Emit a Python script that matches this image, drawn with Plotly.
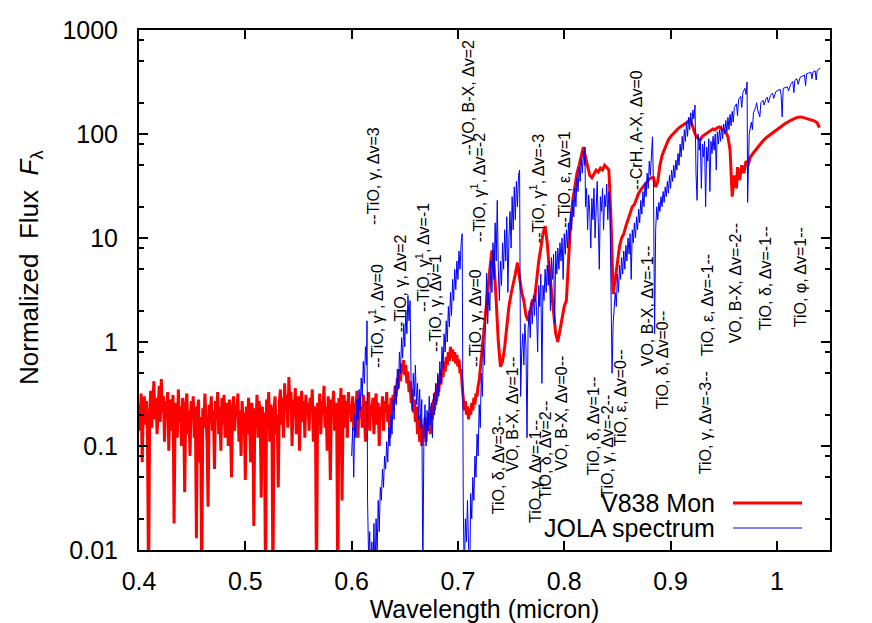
import plotly.graph_objects as go

# ---------------- data ----------------
red_wl = [
    0.400, 0.401, 0.402, 0.403, 0.404, 0.405, 0.406, 0.407, 0.408, 0.409,
    0.410, 0.411, 0.412, 0.413, 0.414, 0.415, 0.416, 0.417, 0.418, 0.419,
    0.420, 0.421, 0.422, 0.423, 0.424, 0.425, 0.426, 0.427, 0.428, 0.429,
    0.430, 0.431, 0.432, 0.433, 0.434, 0.435, 0.436, 0.437, 0.438, 0.439,
    0.440, 0.441, 0.442, 0.443, 0.444, 0.445, 0.446, 0.447, 0.448, 0.449,
    0.450, 0.451, 0.452, 0.453, 0.454, 0.455, 0.456, 0.457, 0.458, 0.459,
    0.460, 0.461, 0.462, 0.463, 0.464, 0.465, 0.466, 0.467, 0.468, 0.469,
    0.470, 0.471, 0.472, 0.473, 0.474, 0.475, 0.476, 0.477, 0.478, 0.479,
    0.480, 0.481, 0.482, 0.483, 0.484, 0.485, 0.486, 0.487, 0.488, 0.489,
    0.490, 0.491, 0.492, 0.493, 0.494, 0.495, 0.496, 0.497, 0.498, 0.499,
    0.500, 0.501, 0.502, 0.503, 0.504, 0.505, 0.506, 0.507, 0.508, 0.509,
    0.510, 0.511, 0.512, 0.513, 0.514, 0.515, 0.516, 0.517, 0.518, 0.519,
    0.520, 0.521, 0.522, 0.523, 0.524, 0.525, 0.526, 0.527, 0.528, 0.529,
    0.530, 0.531, 0.532, 0.533, 0.534, 0.535, 0.536, 0.537, 0.538, 0.539,
    0.540, 0.541, 0.542, 0.543, 0.544, 0.545, 0.546, 0.547, 0.548, 0.549,
    0.550, 0.551, 0.552, 0.553, 0.554, 0.555, 0.556, 0.557, 0.558, 0.559,
    0.560, 0.561, 0.562, 0.563, 0.564, 0.565, 0.566, 0.567, 0.568, 0.569,
    0.570, 0.571, 0.572, 0.573, 0.574, 0.575, 0.576, 0.577, 0.578, 0.579,
    0.580, 0.581, 0.582, 0.583, 0.584, 0.585, 0.586, 0.587, 0.588, 0.589,
    0.590, 0.591, 0.592, 0.593, 0.594, 0.595, 0.596, 0.597, 0.598, 0.599,
    0.600, 0.601, 0.602, 0.603, 0.604, 0.605, 0.606, 0.607, 0.608, 0.609,
    0.610, 0.611, 0.612, 0.613, 0.614, 0.615, 0.616, 0.617, 0.618, 0.619,
    0.620, 0.621, 0.622, 0.623, 0.624, 0.625, 0.626, 0.627, 0.628, 0.629,
    0.630, 0.631, 0.632, 0.633, 0.634, 0.635, 0.636, 0.637, 0.638, 0.639,
    0.640, 0.641, 0.642, 0.643, 0.644, 0.645, 0.646, 0.647, 0.648, 0.649,
    0.650, 0.651, 0.652, 0.653, 0.654, 0.655, 0.656, 0.657, 0.658, 0.659,
    0.660, 0.661, 0.662, 0.663, 0.664, 0.665, 0.666, 0.667, 0.668, 0.669,
    0.670, 0.671, 0.672, 0.673, 0.674, 0.675, 0.676, 0.677, 0.678, 0.679,
    0.680, 0.681, 0.682, 0.683, 0.684, 0.685, 0.686, 0.687, 0.688, 0.689,
    0.690, 0.691, 0.692, 0.693, 0.694, 0.695, 0.696, 0.697, 0.698, 0.699,
    0.700, 0.701, 0.702, 0.703, 0.704, 0.705, 0.706, 0.707, 0.708, 0.709,
    0.710, 0.711, 0.712, 0.713, 0.714, 0.715, 0.716, 0.717, 0.718, 0.719,
    0.720, 0.722, 0.724, 0.726, 0.728, 0.730, 0.732, 0.734, 0.736, 0.738,
    0.740, 0.742, 0.744, 0.746, 0.748, 0.750, 0.752, 0.754, 0.756, 0.758,
    0.760, 0.762, 0.764, 0.766, 0.768, 0.770, 0.772, 0.774, 0.776, 0.778,
    0.780, 0.782, 0.784, 0.786, 0.788, 0.790, 0.792, 0.794, 0.796, 0.798,
    0.800, 0.802, 0.804, 0.806, 0.808, 0.810, 0.812, 0.814, 0.816, 0.818,
    0.820, 0.822, 0.824, 0.826, 0.828, 0.830, 0.832, 0.834, 0.836, 0.838,
    0.840, 0.842, 0.844, 0.846, 0.848, 0.850, 0.852, 0.854, 0.856, 0.858,
    0.860, 0.862, 0.864, 0.866, 0.868, 0.870, 0.872, 0.874, 0.876, 0.878,
    0.880, 0.882, 0.884, 0.886, 0.888, 0.890, 0.892, 0.894, 0.896, 0.898,
    0.900, 0.903, 0.906, 0.909, 0.912, 0.915, 0.918, 0.920, 0.922, 0.924,
    0.926, 0.928, 0.930, 0.932, 0.934, 0.936, 0.938, 0.940, 0.942, 0.944,
    0.946, 0.948, 0.950, 0.952, 0.954, 0.956, 0.958, 0.960, 0.962, 0.963,
    0.965, 0.967, 0.969, 0.971, 0.973, 0.975, 0.978, 0.981, 0.984, 0.987,
    0.990, 0.993, 0.996, 0.999, 1.002, 1.005, 1.008, 1.011, 1.014, 1.017,
    1.020, 1.023, 1.026, 1.029, 1.032, 1.035, 1.038, 1.040,
]
red_flux = [
    0.25, 0.14, 0.32, 0.07, 0.22, 0.30, 0.16, 0.27, 0.12, 0.004,
    0.20, 0.34, 0.15, 0.26, 0.42, 0.18, 0.29, 0.13, 0.24, 0.38,
    0.17, 0.44, 0.21, 0.30, 0.11, 0.27, 0.19, 0.33, 0.09, 0.23,
    0.28, 0.14, 0.31, 0.018, 0.20, 0.26, 0.12, 0.35, 0.17, 0.24,
    0.10, 0.29, 0.19, 0.036, 0.25, 0.32, 0.13, 0.22, 0.08, 0.27,
    0.18, 0.30, 0.12, 0.24, 0.013, 0.21, 0.28, 0.07, 0.19, 0.004,
    0.23, 0.15, 0.32, 0.20, 0.11, 0.026, 0.25, 0.17, 0.30, 0.14,
    0.22, 0.06, 0.27, 0.18, 0.33, 0.13, 0.24, 0.09, 0.29, 0.16,
    0.31, 0.12, 0.21, 0.26, 0.10, 0.28, 0.17, 0.05, 0.23, 0.30,
    0.14, 0.25, 0.19, 0.32, 0.11, 0.22, 0.08, 0.27, 0.16, 0.21,
    0.047, 0.24, 0.13, 0.29, 0.18, 0.07, 0.26, 0.20, 0.017, 0.23,
    0.15, 0.31, 0.12, 0.27, 0.19, 0.032, 0.24, 0.14, 0.21, 0.004,
    0.28, 0.17, 0.33, 0.11, 0.25, 0.19, 0.004, 0.22, 0.30, 0.13,
    0.20, 0.04, 0.26, 0.35, 0.16, 0.29, 0.12, 0.40, 0.21, 0.31,
    0.15, 0.46, 0.24, 0.33, 0.10, 0.28, 0.19, 0.36, 0.13, 0.25,
    0.30, 0.09, 0.23, 0.34, 0.17, 0.27, 0.12, 0.31, 0.20, 0.26,
    0.14, 0.29, 0.21, 0.35, 0.11, 0.24, 0.18, 0.004, 0.26, 0.16,
    0.32, 0.13, 0.27, 0.20, 0.38, 0.15, 0.24, 0.09, 0.30, 0.19,
    0.047, 0.28, 0.22, 0.34, 0.14, 0.26, 0.18, 0.004, 0.29, 0.21,
    0.36, 0.03, 0.24, 0.31, 0.15, 0.27, 0.12, 0.33, 0.20, 0.25,
    0.17, 0.30, 0.14, 0.26, 0.21, 0.34, 0.12, 0.28, 0.19, 0.24,
    0.15, 0.31, 0.22, 0.11, 0.27, 0.18, 0.33, 0.14, 0.25, 0.20,
    0.29, 0.13, 0.23, 0.32, 0.16, 0.26, 0.10, 0.24, 0.19, 0.30,
    0.14, 0.27, 0.21, 0.33, 0.17, 0.25, 0.12, 0.29, 0.22, 0.31,
    0.26, 0.38, 0.30, 0.45, 0.36, 0.55, 0.42, 0.62, 0.50, 0.67,
    0.48, 0.60, 0.40, 0.52, 0.33, 0.42, 0.26, 0.35, 0.21, 0.28,
    0.17, 0.24, 0.13, 0.20, 0.11, 0.18, 0.10, 0.16, 0.12, 0.19,
    0.11, 0.17, 0.14, 0.21, 0.13, 0.24, 0.18, 0.28, 0.22, 0.33,
    0.27, 0.40, 0.33, 0.48, 0.39, 0.55, 0.46, 0.65, 0.52, 0.72,
    0.60, 0.80, 0.66, 0.90, 0.70, 0.85, 0.65, 0.80, 0.62, 0.75,
    0.58, 0.68, 0.50, 0.55, 0.38, 0.30, 0.22, 0.27, 0.20, 0.24,
    0.18, 0.23, 0.20, 0.26, 0.22, 0.29, 0.25, 0.32, 0.30, 0.38,
    0.42, 0.70, 1.2, 2.0, 3.0, 5.0, 7.6, 5.5, 2.5, 1.0,
    0.58, 0.65, 0.9, 1.5, 2.2, 2.9, 3.5, 4.5, 5.8, 4.2,
    3.0, 2.5, 1.8, 1.6, 2.0, 2.5, 2.5, 4.0, 6.0, 8.0,
    11, 13, 9.0, 5.0, 3.0, 1.8, 1.2, 1.0, 1.3, 1.8,
    2.2, 2.5, 6.0, 14, 23, 33, 42, 50, 62, 75,
    60, 48, 40, 38, 42, 45, 43, 47, 45, 50,
    48, 45, 15, 2.9, 4.0, 6.0, 8.3, 10, 11, 13,
    15, 18, 20, 21, 24, 27, 29, 31, 33, 35,
    37, 38, 38, 31, 35, 50, 62, 70, 80, 88,
    94, 103, 110, 117, 122, 128, 137, 125, 108, 95,
    90, 88, 95, 98, 100, 104, 108, 112, 110, 115,
    117, 112, 110, 104, 94, 70, 25, 40, 30, 48,
    36, 50, 42, 55, 50, 60, 66, 72, 80, 86,
    92, 97, 104, 110, 116, 120, 126, 132, 137, 141,
    145, 146, 143, 140, 137, 134, 128, 115,
]

jola_wl = [
    0.600, 0.601, 0.602, 0.603, 0.604, 0.605, 0.606, 0.607, 0.608, 0.609,
    0.610, 0.611, 0.612, 0.613, 0.614, 0.6145, 0.615, 0.616, 0.617, 0.618,
    0.619, 0.620, 0.621, 0.622, 0.623, 0.624, 0.625, 0.626, 0.627, 0.628,
    0.629, 0.630, 0.631, 0.632, 0.633, 0.634, 0.635, 0.636, 0.637, 0.638,
    0.639, 0.640, 0.641, 0.642, 0.643, 0.644, 0.645, 0.646, 0.647, 0.648,
    0.649, 0.650, 0.651, 0.652, 0.653, 0.654, 0.655, 0.656, 0.657, 0.658,
    0.659, 0.660, 0.661, 0.662, 0.663, 0.664, 0.665, 0.666, 0.667, 0.668,
    0.669, 0.670, 0.671, 0.672, 0.673, 0.674, 0.675, 0.676, 0.677, 0.678,
    0.679, 0.680, 0.681, 0.682, 0.683, 0.684, 0.685, 0.686, 0.687, 0.688,
    0.689, 0.690, 0.691, 0.692, 0.693, 0.694, 0.695, 0.696, 0.697, 0.698,
    0.699, 0.700, 0.701, 0.702, 0.703, 0.704, 0.705, 0.706, 0.707, 0.708,
    0.709, 0.710, 0.711, 0.712, 0.713, 0.714, 0.715, 0.716, 0.717, 0.718,
    0.719, 0.720, 0.721, 0.722, 0.723, 0.724, 0.725, 0.726, 0.727, 0.728,
    0.729, 0.730, 0.731, 0.732, 0.733, 0.734, 0.735, 0.736, 0.737, 0.738,
    0.739, 0.740, 0.741, 0.742, 0.743, 0.744, 0.745, 0.746, 0.747, 0.748,
    0.749, 0.750, 0.751, 0.752, 0.753, 0.754, 0.755, 0.756, 0.757, 0.758,
    0.759, 0.760, 0.761, 0.762, 0.763, 0.764, 0.765, 0.766, 0.767, 0.768,
    0.769, 0.770, 0.771, 0.772, 0.773, 0.774, 0.775, 0.776, 0.777, 0.778,
    0.779, 0.780, 0.781, 0.782, 0.783, 0.784, 0.785, 0.786, 0.787, 0.788,
    0.789, 0.790, 0.791, 0.792, 0.793, 0.794, 0.795, 0.796, 0.797, 0.798,
    0.799, 0.800, 0.801, 0.802, 0.803, 0.804, 0.805, 0.806, 0.807, 0.808,
    0.809, 0.810, 0.811, 0.812, 0.813, 0.814, 0.815, 0.816, 0.817, 0.818,
    0.819, 0.8195, 0.820, 0.821, 0.822, 0.823, 0.824, 0.825, 0.826, 0.827,
    0.828, 0.829, 0.830, 0.831, 0.832, 0.833, 0.834, 0.835, 0.836, 0.837,
    0.838, 0.839, 0.840, 0.841, 0.842, 0.843, 0.844, 0.845, 0.846, 0.847,
    0.848, 0.849, 0.850, 0.851, 0.852, 0.853, 0.854, 0.855, 0.856, 0.857,
    0.858, 0.859, 0.860, 0.861, 0.862, 0.863, 0.864, 0.865, 0.866, 0.867,
    0.868, 0.869, 0.870, 0.871, 0.872, 0.873, 0.874, 0.875, 0.876, 0.877,
    0.878, 0.879, 0.880, 0.881, 0.882, 0.883, 0.884, 0.885, 0.886, 0.887,
    0.888, 0.889, 0.890, 0.891, 0.892, 0.893, 0.894, 0.895, 0.896, 0.897,
    0.898, 0.899, 0.900, 0.901, 0.902, 0.903, 0.904, 0.905, 0.906, 0.907,
    0.908, 0.909, 0.910, 0.911, 0.912, 0.913, 0.914, 0.915, 0.916, 0.917,
    0.918, 0.919, 0.920, 0.921, 0.922, 0.923, 0.924, 0.925, 0.926, 0.927,
    0.928, 0.929, 0.930, 0.931, 0.932, 0.933, 0.934, 0.935, 0.936, 0.937,
    0.938, 0.939, 0.940, 0.941, 0.942, 0.943, 0.944, 0.945, 0.946, 0.947,
    0.948, 0.949, 0.950, 0.951, 0.952, 0.953, 0.954, 0.955, 0.956, 0.957,
    0.958, 0.959, 0.960, 0.962, 0.963, 0.964, 0.966, 0.967, 0.968, 0.970,
    0.971, 0.972, 0.9725, 0.974, 0.976, 0.977, 0.978, 0.980, 0.981, 0.982,
    0.984, 0.985, 0.987, 0.988, 0.990, 0.991, 0.992, 0.994, 0.996, 0.997,
    0.999, 1.001, 1.003, 1.004, 1.005, 1.006, 1.008, 1.010, 1.011, 1.013,
    1.015, 1.016, 1.017, 1.019, 1.020, 1.022, 1.024, 1.026, 1.027, 1.028,
    1.030, 1.032, 1.033, 1.034, 1.036, 1.037, 1.038, 1.040, 1.041,
]
jola_flux = [
    0.08, 0.15, 0.05, 0.20, 0.12, 0.28, 0.18, 0.35, 0.22, 0.45,
    0.30, 0.65, 0.40, 0.90, 0.60, 1.6, 0.03, 0.008, 0.015, 0.004,
    0.012, 0.006, 0.018, 0.005, 0.02, 0.009, 0.03, 0.015, 0.04, 0.03,
    0.06, 0.04, 0.08, 0.06, 0.11, 0.07, 0.15, 0.10, 0.20, 0.13,
    0.28, 0.18, 0.38, 0.25, 0.55, 0.35, 0.80, 0.50, 1.1, 0.7,
    1.5, 0.9, 2.0, 1.2, 2.8, 1.6, 2.5, 0.35, 0.22, 0.50,
    0.30, 0.60, 0.25, 0.40, 0.18, 0.35, 0.15, 0.28, 0.005, 0.12,
    0.25, 0.10, 0.22, 0.14, 0.30, 0.16, 0.26, 0.12, 0.32, 0.20,
    0.40, 0.25, 0.50, 0.30, 0.65, 0.40, 0.90, 0.55, 1.2, 0.8,
    1.6, 1.0, 2.2, 1.4, 3.0, 1.8, 4.0, 2.5, 5.0, 3.2,
    6.0, 4.0, 7.5, 5.0, 9.0, 11, 0.03, 0.005, 0.02, 0.012,
    0.03, 0.015, 0.004, 0.035, 0.02, 0.05, 0.03, 0.08, 0.05, 0.13,
    0.08, 0.25, 0.15, 0.50, 0.30, 1.0, 0.6, 1.8, 4.6, 1.5,
    3.0, 2.0, 6.0, 3.0, 9.0, 4.0, 14, 6.0, 23, 5.0,
    2.5, 6.0, 3.5, 9.0, 5.0, 12, 6.0, 16, 3.0, 10,
    18, 8.0, 25, 12, 31, 15, 35, 20, 40, 45,
    0.30, 0.8, 1.2, 0.6, 1.5, 0.9, 0.12, 1.3, 2.0, 1.1,
    2.4, 1.5, 2.8, 1.8, 3.2, 2.0, 0.8, 3.5, 2.2, 4.5,
    0.40, 3.5, 2.5, 5.0, 3.0, 5.5, 3.5, 6.0, 2.0, 6.5,
    4.0, 7.0, 1.5, 7.5, 4.5, 8.0, 5.0, 9.0, 6.0, 10,
    4.0, 11, 7.0, 12, 8.0, 14, 9.0, 18, 12, 23,
    16, 30, 20, 38, 28, 48, 35, 58, 42, 68,
    50, 75, 20, 30, 12, 26, 18, 8.0, 24, 15,
    30, 10, 22, 35, 14, 5.0, 25, 18, 30, 12,
    26, 20, 33, 15, 28, 22, 3.0, 0.5, 1.5, 2.5,
    3.0, 2.2, 4.5, 3.0, 5.5, 4.0, 6.5, 4.5, 7.5, 5.0,
    8.5, 6.0, 10, 7.0, 11, 4.0, 12, 9.0, 14, 10,
    16, 12, 19, 14, 23, 17, 28, 20, 34, 25,
    42, 30, 55, 40, 75, 94, 30, 1.2, 12, 20,
    15, 22, 18, 25, 20, 28, 22, 31, 25, 35,
    27, 40, 30, 45, 35, 50, 38, 56, 45, 65,
    50, 80, 60, 95, 70, 110, 85, 130, 95, 145,
    110, 160, 120, 170, 140, 190, 40, 23, 100, 70,
    90, 30, 80, 60, 85, 20, 75, 55, 90, 28,
    85, 65, 95, 70, 100, 45, 105, 80, 110, 85,
    120, 90, 125, 100, 135, 105, 145, 110, 155, 120,
    165, 130, 180, 195, 150, 215, 230, 180, 250, 275,
    240, 316, 22, 100, 130, 110, 160, 180, 200, 170,
    146, 200, 211, 190, 220, 226, 200, 235, 247, 220,
    255, 265, 270, 240, 146, 275, 280, 284, 260, 300,
    320, 250, 330, 340, 300, 352, 360, 370, 290, 380,
    385, 392, 340, 395, 405, 330, 410, 420, 430,
]

band_text = [
    "--TiO, γ<sup>1</sup>, Δv=0", "--TiO, γ, Δv=3", "--TiO, γ, Δv=2",
    "--TiO, γ<sup>1</sup>, Δv=-1", "--TiO, γ, Δv=1", "--TiO, γ, Δv=0",
    "--TiO, γ<sup>1</sup>, Δv=-2", "--VO, B-X, Δv=2", "--TiO, γ<sup>1</sup>, Δv=-3",
    "--TiO, ε, Δv=1", "--CrH, A-X, Δv=0",
    "TiO, δ, Δv=3--", "VO, B-X, Δv=1--", "TiO, γ, Δv=-1--", "TiO, δ, Δv=2--",
    "VO, B-X, Δv=0--", "TiO, δ, Δv=1--", "TiO, γ, Δv=-2--", "TiO, ε, Δv=0--",
    "VO, B-X, Δv=-1--", "TiO, δ, Δv=0--", "TiO, γ, Δv=-3--", "TiO, ε, Δv=-1--",
    "VO, B-X, Δv=-2--", "TiO, δ, Δv=-1--", "TiO, φ, Δv=1--",
]
band_wl = [
    0.623, 0.620, 0.6455, 0.667, 0.6785, 0.716, 0.719, 0.7095, 0.7744,
    0.8008, 0.8685,
    0.7377, 0.7518, 0.7725, 0.782, 0.798, 0.827, 0.840, 0.8525,
    0.878, 0.892, 0.9325, 0.9343, 0.9607, 0.989, 1.022,
]
# vertical centre of each rotated label (fraction of plot height)
band_ypos = [
    0.450, 0.719, 0.513, 0.563, 0.475, 0.446, 0.696, 0.869, 0.694, 0.712, 0.808,
    0.163, 0.262, 0.150, 0.192, 0.262, 0.240, 0.200, 0.292,
    0.469, 0.365, 0.244, 0.471, 0.513, 0.523, 0.525,
]

x_ticks = [0.4, 0.5, 0.6, 0.7, 0.8, 0.9, 1.0]
x_tick_text = ["0.4", "0.5", "0.6", "0.7", "0.8", "0.9", "1"]
y_ticks = [0.01, 0.1, 1, 10, 100, 1000]
y_tick_text = ["0.01", "0.1", "1", "10", "100", "1000"]
y_minor = [0.02, 0.05, 0.08, 0.2, 0.5, 0.8, 2, 5, 8, 20, 50, 80, 200, 500, 800]

FONT = "Liberation Sans, Arial, Helvetica, sans-serif"
BIG = 25

fig = go.Figure()
fig.add_trace(go.Scatter(x=red_wl, y=red_flux, mode="lines", name="V838 Mon",
                         line=dict(color="#ff0000", width=3), showlegend=False))
fig.add_trace(go.Scatter(x=jola_wl, y=jola_flux, mode="lines", name="JOLA spectrum",
                         line=dict(color="#0000ff", width=1), showlegend=False))

annotations = []
for t, w, yp in zip(band_text, band_wl, band_ypos):
    annotations.append(dict(x=w, y=yp, xref="x", yref="paper", text=t, textangle=-90,
                            showarrow=False, xanchor="center", yanchor="middle",
                            font=dict(family=FONT, size=16, color="black")))

# gnuplot-style key: text right-aligned, sample line to its right
annotations.append(dict(x=0.8365, y=0.0904, xref="paper", yref="paper", text="V838 Mon",
                        showarrow=False, xanchor="right", yanchor="middle",
                        font=dict(family=FONT, size=BIG, color="black")))
annotations.append(dict(x=0.8365, y=0.0423, xref="paper", yref="paper", text="JOLA spectrum",
                        showarrow=False, xanchor="right", yanchor="middle",
                        font=dict(family=FONT, size=BIG, color="black")))
# y-axis title (placed like the gnuplot label, slightly above the axis centre)
annotations.append(dict(x=-0.158, y=0.542, xref="paper", yref="paper",
                        text="Normalized\u00a0\u00a0Flux\u00a0\u00a0<i>F</i><sub>λ</sub>",
                        textangle=-90, showarrow=False, xanchor="center", yanchor="middle",
                        font=dict(family=FONT, size=26, color="black")))
shapes = [
    dict(type="line", xref="paper", yref="paper", x0=0.8596, x1=0.9595, y0=0.0904, y1=0.0904,
         line=dict(color="#ff0000", width=3)),
    dict(type="line", xref="paper", yref="paper", x0=0.8596, x1=0.9595, y0=0.0423, y1=0.0423,
         line=dict(color="#0000ff", width=1)),
]

# the page body adds an 8 px offset, so the figure is 8 px smaller on each side
fig.update_layout(
    width=864, height=615,
    margin=dict(l=131, r=42, t=22, b=73, autoexpand=False),
    paper_bgcolor="white", plot_bgcolor="white",
    font=dict(family=FONT, size=BIG, color="black"),
    annotations=annotations, shapes=shapes,
    xaxis=dict(range=[0.4, 1.05], tickvals=x_ticks, ticktext=x_tick_text,
               ticks="inside", ticklen=9, tickwidth=1.5, tickcolor="black",
               showline=True, linecolor="black", linewidth=2, mirror="allticks",
               showgrid=False, zeroline=False, ticklabelstandoff=8, automargin=False,
               tickfont=dict(family=FONT, size=BIG),
               title=dict(text="Wavelength (micron)", standoff=6,
                          font=dict(family=FONT, size=BIG))),
    yaxis=dict(type="log", range=[-2, 3], tickvals=y_ticks, ticktext=y_tick_text,
               ticks="inside", ticklen=9, tickwidth=1.5, tickcolor="black",
               showline=True, linecolor="black", linewidth=2, mirror="allticks",
               showgrid=False, zeroline=False, ticklabelstandoff=14, automargin=False,
               minor=dict(tickvals=y_minor, ticks="inside", ticklen=5, tickwidth=1.5,
                          tickcolor="black", showgrid=False),
               tickfont=dict(family=FONT, size=BIG)),
)

fig.write_html("out.html")
